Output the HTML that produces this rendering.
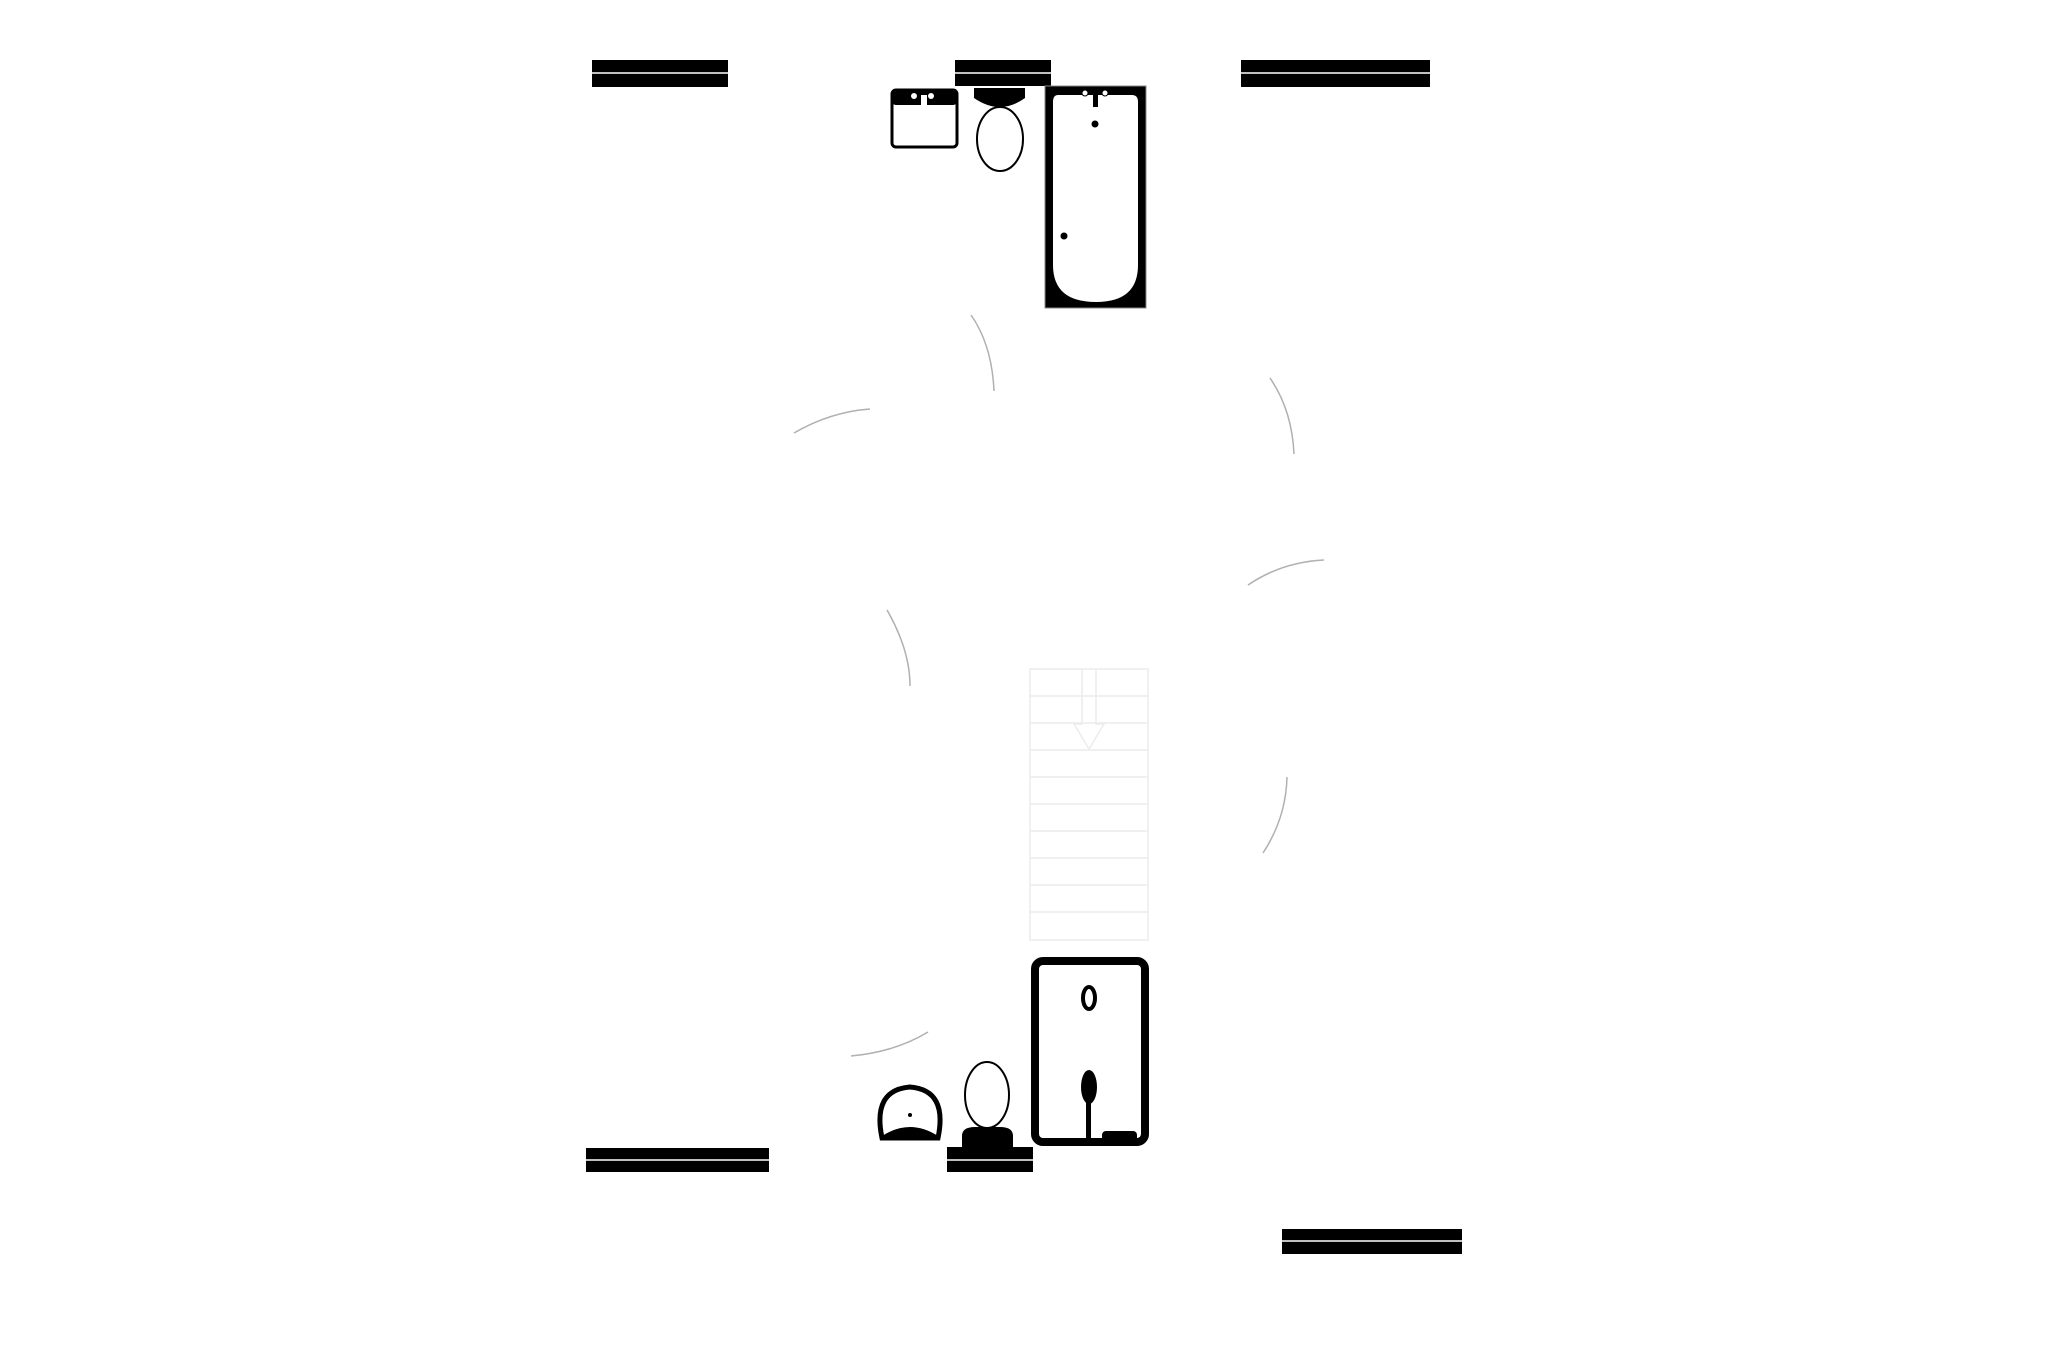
<!DOCTYPE html>
<html><head><meta charset="utf-8"><style>html,body{margin:0;padding:0;background:#fff}svg{display:block}</style></head>
<body>
<svg width="2057" height="1371" viewBox="0 0 2057 1371" xmlns="http://www.w3.org/2000/svg">
<rect width="2057" height="1371" fill="#fff"/>
<g fill="#000">
<rect x="592" y="60" width="136" height="27"/><rect x="955" y="60" width="96" height="26"/><rect x="1241" y="60" width="189" height="27"/>
<rect x="586" y="1148" width="183" height="24"/><rect x="947" y="1147" width="86" height="25"/><rect x="1282" y="1229" width="180" height="25"/>
</g>
<g stroke="#fff" stroke-width="1.5">
<line x1="592" y1="73" x2="728" y2="73"/><line x1="955" y1="73" x2="1051" y2="73"/><line x1="1241" y1="73" x2="1430" y2="73"/>
<line x1="586" y1="1160" x2="769" y2="1160"/><line x1="947" y1="1160" x2="1033" y2="1160"/><line x1="1282" y1="1241" x2="1462" y2="1241"/>
</g>
<rect x="892" y="90" width="65" height="57" rx="4" fill="#fff" stroke="#000" stroke-width="3"/>
<rect x="892" y="90" width="65" height="15" rx="4" fill="#000"/>
<rect x="921" y="95" width="6" height="16" fill="#fff"/><circle cx="914" cy="96" r="3" fill="#fff"/><circle cx="931" cy="96" r="3" fill="#fff"/>
<path d="M974 88 H1025 V98 Q1000 116 974 98 Z" fill="#000"/>
<ellipse cx="1000" cy="139" rx="23" ry="32" fill="#fff" stroke="#000" stroke-width="2"/>
<rect x="1045" y="86" width="101" height="222" fill="#000" stroke="#888" stroke-width="1"/>
<path d="M1058 95 H1132 Q1138 95 1138 102 V265 Q1138 302 1096 302 Q1053 302 1053 265 V102 Q1053 95 1058 95 Z" fill="#fff"/>
<rect x="1093" y="92" width="5" height="15" fill="#000"/><circle cx="1085" cy="93" r="3" fill="#fff" stroke="#000"/><circle cx="1105" cy="93" r="3" fill="#fff" stroke="#000"/>
<circle cx="1095" cy="124" r="3.5" fill="#000"/><circle cx="1064" cy="236" r="3.5" fill="#000"/>
<path d="M882 1138 Q872 1090 910 1087 Q948 1090 938 1138 Z" fill="#fff" stroke="#000" stroke-width="5"/>
<path d="M882 1136 Q910 1118 938 1136 Z" fill="#000"/>
<circle cx="910" cy="1115" r="2" fill="#000"/>
<ellipse cx="987" cy="1095" rx="22" ry="33" fill="#fff" stroke="#000" stroke-width="2"/>
<path d="M962 1148 V1136 Q962 1127 975 1127 H1000 Q1013 1127 1013 1136 V1148 Z" fill="#000"/>
<rect x="1035" y="961" width="110" height="181" rx="8" fill="#fff" stroke="#000" stroke-width="8"/>
<ellipse cx="1089" cy="998" rx="6" ry="11" fill="#fff" stroke="#000" stroke-width="4"/>
<ellipse cx="1089" cy="1087" rx="8" ry="17" fill="#000"/><rect x="1086" y="1095" width="5" height="45" fill="#000"/>
<rect x="1102" y="1131" width="35" height="14" rx="4" fill="#000"/>
<g fill="none" stroke="#ececec" stroke-width="1.5">
<rect x="1030" y="669" width="118" height="271"/>
<line x1="1030" y1="696" x2="1148" y2="696"/><line x1="1030" y1="723" x2="1148" y2="723"/><line x1="1030" y1="750" x2="1148" y2="750"/>
<line x1="1030" y1="777" x2="1148" y2="777"/><line x1="1030" y1="804" x2="1148" y2="804"/><line x1="1030" y1="831" x2="1148" y2="831"/>
<line x1="1030" y1="858" x2="1148" y2="858"/><line x1="1030" y1="885" x2="1148" y2="885"/><line x1="1030" y1="912" x2="1148" y2="912"/>
<path d="M1082 669 V724 H1074 L1089 749 L1104 724 H1096 V669"/>
</g>
<g fill="none" stroke="#b0b0b0" stroke-width="1.5">
<path d="M971 315 Q992 345 994 391"/>
<path d="M794 433 Q830 412 870 409"/>
<path d="M1270 378 Q1292 410 1294 454"/>
<path d="M1248 585 Q1282 562 1324 560"/>
<path d="M887 610 Q910 650 910 686"/>
<path d="M1263 853 Q1286 818 1287 777"/>
<path d="M851 1056 Q895 1052 928 1032"/>
</g>
</svg>
</body></html>
